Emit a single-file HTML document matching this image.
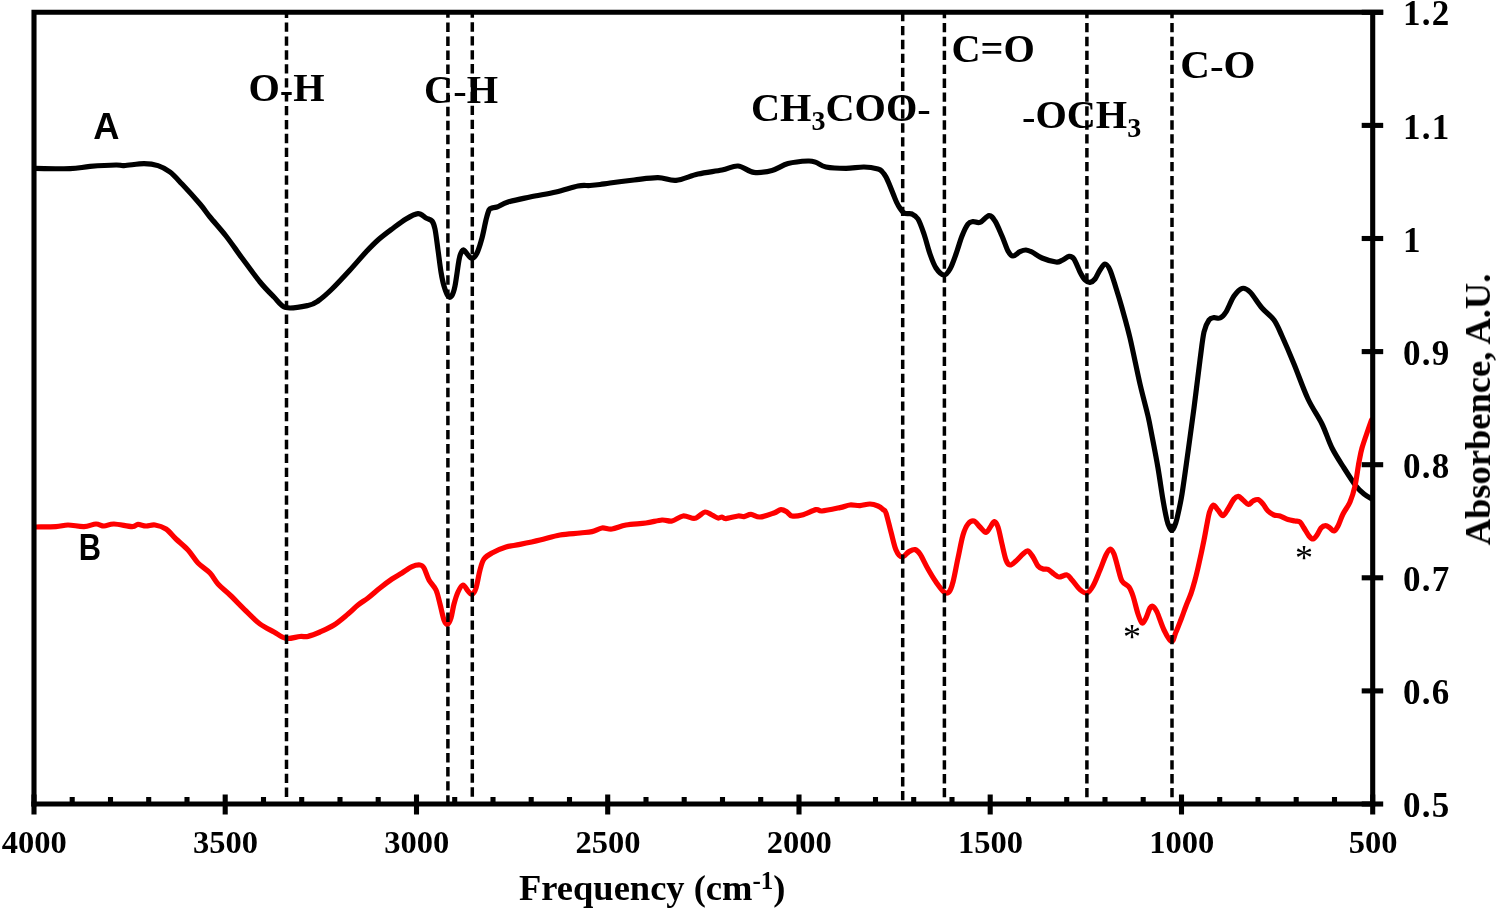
<!DOCTYPE html>
<html lang="en"><head><meta charset="utf-8"><title>FTIR spectra</title>
<style>
html,body{margin:0;padding:0;background:#fff;}
body{width:1499px;height:911px;overflow:hidden;}
svg{display:block;}
.s{font-family:"Liberation Serif",serif;font-weight:bold;fill:#000;}
.ss{font-family:"Liberation Sans","DejaVu Sans",sans-serif;font-weight:bold;fill:#000;}
.t{font-size:32.5px;}
.u{font-size:35px;letter-spacing:1.3px;}
.l{font-size:40.3px;}
.a{font-size:36.5px;}
</style></head><body>
<svg width="1499" height="911" viewBox="0 0 1499 911">
<defs><filter id="soft" x="0" y="0" width="1499" height="911" filterUnits="userSpaceOnUse"><feGaussianBlur stdDeviation="0.5"/></filter></defs>
<rect x="0" y="0" width="1499" height="911" fill="#ffffff"/>
<g filter="url(#soft)">
<path d="M35.0 168.4C40.8 168.4 60.8 169.0 70.0 168.7C79.2 168.4 82.3 167.0 90.0 166.4C97.7 165.8 110.3 165.1 116.0 165.0C121.7 164.9 119.3 165.8 124.0 165.6C128.7 165.4 138.3 163.6 144.0 163.6C149.7 163.6 153.7 164.2 158.0 165.6C162.3 167.0 166.0 168.9 170.0 172.0C174.0 175.1 177.0 178.7 182.0 184.0C187.0 189.3 195.3 198.5 200.0 204.0C204.7 209.5 205.7 211.7 210.0 217.0C214.3 222.3 220.7 229.2 226.0 236.0C231.3 242.8 236.3 250.3 242.0 258.0C247.7 265.7 254.7 275.5 260.0 282.0C265.3 288.5 269.7 292.7 274.0 297.0C278.3 301.3 280.3 306.2 286.0 307.6C291.7 309.0 302.7 306.6 308.0 305.5C313.3 304.4 314.0 303.8 318.0 301.0C322.0 298.2 326.7 294.2 332.0 289.0C337.3 283.8 344.3 276.2 350.0 270.0C355.7 263.8 361.3 257.0 366.0 252.0C370.7 247.0 373.7 243.8 378.0 240.0C382.3 236.2 387.3 232.5 392.0 229.0C396.7 225.5 401.7 221.6 406.0 219.0C410.3 216.4 414.7 213.8 418.0 213.6C421.3 213.4 423.7 216.8 426.0 218.0C428.3 219.2 430.5 219.2 432.0 221.0C433.5 222.8 434.0 224.2 435.0 229.0C436.0 233.8 437.0 242.8 438.0 250.0C439.0 257.2 440.0 266.0 441.0 272.0C442.0 278.0 442.8 282.0 444.0 286.0C445.2 290.0 446.7 294.3 448.0 296.0C449.3 297.7 450.4 297.7 451.6 296.0C452.8 294.3 453.8 292.0 455.0 286.0C456.2 280.0 458.0 265.5 459.0 260.0C460.0 254.5 460.2 254.7 461.0 253.0C461.8 251.3 462.4 249.7 463.6 250.0C464.8 250.3 466.6 253.6 468.0 255.0C469.4 256.4 470.5 258.7 472.0 258.4C473.5 258.1 475.3 256.4 477.0 253.0C478.7 249.6 480.5 243.5 482.0 238.0C483.5 232.5 484.8 224.7 486.0 220.0C487.2 215.3 488.0 212.0 489.0 210.0C490.0 208.0 490.7 208.5 492.0 208.0C493.3 207.5 494.3 208.0 497.0 207.0C499.7 206.0 502.5 203.7 508.0 202.0C513.5 200.3 522.0 198.7 530.0 197.0C538.0 195.3 548.0 193.8 556.0 192.0C564.0 190.2 572.3 187.1 578.0 186.0C583.7 184.9 586.3 185.8 590.0 185.5C593.7 185.2 596.7 184.9 600.0 184.5C603.3 184.1 604.3 183.8 610.0 183.0C615.7 182.2 626.0 180.9 634.0 180.0C642.0 179.1 651.0 177.5 658.0 177.6C665.0 177.7 669.3 181.0 676.0 180.4C682.7 179.8 690.3 175.7 698.0 174.0C705.7 172.3 715.3 171.3 722.0 170.0C728.7 168.7 732.7 165.6 738.0 166.0C743.3 166.4 748.3 171.7 754.0 172.4C759.7 173.1 766.3 171.9 772.0 170.4C777.7 168.9 782.0 165.2 788.0 163.6C794.0 162.0 803.3 161.2 808.0 161.0C812.7 160.8 813.0 161.4 816.0 162.4C819.0 163.4 821.0 166.0 826.0 167.0C831.0 168.0 839.7 168.4 846.0 168.4C852.3 168.4 858.7 166.9 864.0 167.0C869.3 167.1 875.0 168.2 878.0 169.0C881.0 169.8 880.7 170.2 882.0 171.5C883.3 172.8 884.7 174.6 886.0 177.0C887.3 179.4 888.7 182.8 890.0 186.0C891.3 189.2 892.7 192.8 894.0 196.0C895.3 199.2 896.3 202.2 898.0 205.0C899.7 207.8 901.7 211.5 904.0 213.0C906.3 214.5 909.7 213.0 912.0 214.0C914.3 215.0 916.0 215.7 918.0 219.0C920.0 222.3 922.0 228.2 924.0 234.0C926.0 239.8 928.0 248.3 930.0 254.0C932.0 259.7 933.7 264.5 936.0 268.0C938.3 271.5 941.7 274.8 944.0 275.0C946.3 275.2 948.0 272.5 950.0 269.0C952.0 265.5 954.0 259.5 956.0 254.0C958.0 248.5 960.0 241.0 962.0 236.0C964.0 231.0 966.2 226.4 968.0 224.0C969.8 221.6 971.0 221.9 973.0 221.6C975.0 221.3 977.3 223.4 980.0 222.4C982.7 221.4 986.5 215.8 989.0 215.6C991.5 215.4 992.8 217.6 995.0 221.0C997.2 224.4 999.8 231.0 1002.0 236.0C1004.2 241.0 1006.2 247.7 1008.0 251.0C1009.8 254.3 1011.0 255.9 1013.0 256.0C1015.0 256.1 1017.8 252.6 1020.0 251.6C1022.2 250.6 1024.0 249.9 1026.0 250.0C1028.0 250.1 1029.3 250.7 1032.0 252.0C1034.7 253.3 1038.0 256.3 1042.0 258.0C1046.0 259.7 1052.7 261.6 1056.0 262.0C1059.3 262.4 1059.8 261.3 1062.0 260.4C1064.2 259.5 1067.0 256.6 1069.0 256.4C1071.0 256.2 1072.2 256.4 1074.0 259.0C1075.8 261.6 1078.2 268.5 1080.0 272.0C1081.8 275.5 1083.3 278.3 1085.0 280.0C1086.7 281.7 1088.3 282.6 1090.0 282.4C1091.7 282.2 1093.3 281.1 1095.0 279.0C1096.7 276.9 1098.3 272.5 1100.0 270.0C1101.7 267.5 1103.3 264.0 1105.0 264.0C1106.7 264.0 1108.2 266.0 1110.0 270.0C1111.8 274.0 1114.0 281.7 1116.0 288.0C1118.0 294.3 1119.7 299.7 1122.0 308.0C1124.3 316.3 1127.0 325.3 1130.0 338.0C1133.0 350.7 1137.0 371.0 1140.0 384.0C1143.0 397.0 1146.0 407.3 1148.0 416.0C1150.0 424.7 1150.3 427.3 1152.0 436.0C1153.7 444.7 1156.2 457.3 1158.0 468.0C1159.8 478.7 1161.5 491.2 1163.0 500.0C1164.5 508.8 1165.9 515.9 1167.0 520.5C1168.1 525.1 1168.7 525.9 1169.5 527.5C1170.3 529.1 1171.0 530.3 1171.8 530.3C1172.5 530.3 1173.1 529.5 1174.0 527.5C1174.9 525.5 1175.7 524.1 1177.0 518.5C1178.3 512.9 1180.2 505.1 1182.0 494.0C1183.8 482.9 1186.0 466.3 1188.0 452.0C1190.0 437.7 1192.0 423.3 1194.0 408.0C1196.0 392.7 1198.3 372.7 1200.0 360.0C1201.7 347.3 1202.5 338.7 1204.0 332.0C1205.5 325.3 1207.3 322.4 1209.0 320.0C1210.7 317.6 1212.2 317.9 1214.0 317.6C1215.8 317.3 1218.0 318.9 1220.0 318.0C1222.0 317.1 1223.7 315.7 1226.0 312.0C1228.3 308.3 1231.3 299.9 1234.0 296.0C1236.7 292.1 1239.3 289.1 1242.0 288.4C1244.7 287.7 1246.7 288.7 1250.0 292.0C1253.3 295.3 1258.0 303.3 1262.0 308.0C1266.0 312.7 1270.7 315.3 1274.0 320.0C1277.3 324.7 1278.7 328.7 1282.0 336.0C1285.3 343.3 1289.7 353.5 1294.0 364.0C1298.3 374.5 1303.3 389.0 1308.0 399.0C1312.7 409.0 1318.0 415.8 1322.0 424.0C1326.0 432.2 1328.3 440.7 1332.0 448.0C1335.7 455.3 1340.0 461.7 1344.0 468.0C1348.0 474.3 1352.7 481.7 1356.0 486.0C1359.3 490.3 1361.3 491.8 1364.0 494.0C1366.7 496.2 1370.7 498.2 1372.0 499.0" fill="none" stroke="#000" stroke-width="5.2" stroke-linejoin="round" stroke-linecap="round"/>
<path d="M35.0 527.0C38.5 526.9 50.5 526.9 56.0 526.6C61.5 526.3 63.3 525.0 68.0 525.0C72.7 525.0 79.3 526.8 84.0 526.6C88.7 526.4 92.7 524.1 96.0 524.0C99.3 523.9 101.0 526.0 104.0 526.0C107.0 526.0 109.3 523.9 114.0 524.0C118.7 524.1 128.0 526.5 132.0 526.6C136.0 526.7 135.7 524.5 138.0 524.4C140.3 524.3 143.2 525.9 146.0 526.0C148.8 526.1 151.7 524.5 155.0 525.0C158.3 525.5 162.5 526.7 166.0 529.0C169.5 531.3 172.3 535.5 176.0 539.0C179.7 542.5 184.3 546.0 188.0 550.0C191.7 554.0 194.3 559.2 198.0 563.0C201.7 566.8 206.7 569.5 210.0 573.0C213.3 576.5 214.7 580.3 218.0 584.0C221.3 587.7 225.3 590.5 230.0 595.0C234.7 599.5 241.0 606.2 246.0 611.0C251.0 615.8 255.3 620.5 260.0 624.0C264.7 627.5 269.7 629.6 274.0 632.0C278.3 634.4 281.7 637.6 286.0 638.4C290.3 639.1 296.3 636.8 300.0 636.5C303.7 636.2 304.7 637.1 308.0 636.4C311.3 635.6 315.7 633.9 320.0 632.0C324.3 630.1 329.3 628.0 334.0 625.0C338.7 622.0 344.0 617.3 348.0 614.0C352.0 610.7 354.7 607.7 358.0 605.0C361.3 602.3 364.3 600.8 368.0 598.0C371.7 595.2 376.0 591.2 380.0 588.0C384.0 584.8 388.3 581.5 392.0 579.0C395.7 576.5 398.7 575.1 402.0 573.0C405.3 570.9 409.0 567.9 412.0 566.6C415.0 565.3 418.0 564.8 420.0 565.0C422.0 565.2 422.5 565.5 424.0 568.0C425.5 570.5 427.0 576.3 429.0 580.0C431.0 583.7 434.2 586.0 436.0 590.0C437.8 594.0 438.7 599.0 440.0 604.0C441.3 609.0 442.7 616.6 444.0 620.0C445.3 623.4 446.4 624.7 447.6 624.4C448.8 624.1 449.9 621.4 451.0 618.0C452.1 614.6 452.8 608.3 454.0 604.0C455.2 599.7 456.5 595.2 458.0 592.0C459.5 588.8 461.3 585.2 463.0 585.0C464.7 584.8 466.5 589.4 468.0 591.0C469.5 592.6 470.7 594.9 472.0 594.4C473.3 593.9 474.7 592.1 476.0 588.0C477.3 583.9 478.7 574.8 480.0 570.0C481.3 565.2 482.0 561.8 484.0 559.0C486.0 556.2 488.3 555.0 492.0 553.0C495.7 551.0 501.3 548.4 506.0 547.0C510.7 545.6 514.3 545.6 520.0 544.4C525.7 543.2 533.3 541.6 540.0 540.0C546.7 538.4 553.3 536.2 560.0 535.0C566.7 533.8 574.7 533.6 580.0 533.0C585.3 532.4 588.3 532.4 592.0 531.6C595.7 530.8 598.7 528.4 602.0 528.0C605.3 527.6 608.0 529.5 612.0 529.0C616.0 528.5 620.3 526.0 626.0 525.0C631.7 524.0 640.0 523.8 646.0 523.0C652.0 522.2 657.7 520.3 662.0 520.0C666.3 519.7 668.5 521.7 672.0 521.0C675.5 520.3 679.3 516.4 683.0 516.0C686.7 515.6 691.3 518.4 694.0 518.4C696.7 518.4 697.2 517.1 699.0 516.0C700.8 514.9 702.8 512.2 705.0 512.0C707.2 511.8 709.8 514.0 712.0 515.0C714.2 516.0 716.3 517.7 718.0 518.0C719.7 518.3 720.7 516.9 722.0 517.0C723.3 517.1 723.3 518.8 726.0 518.6C728.7 518.4 735.0 516.3 738.0 516.0C741.0 515.7 741.8 516.9 744.0 516.6C746.2 516.3 748.3 514.3 751.0 514.4C753.7 514.5 756.2 517.2 760.0 517.0C763.8 516.8 770.5 514.2 774.0 513.0C777.5 511.8 778.8 509.8 781.0 509.6C783.2 509.4 785.2 510.9 787.0 512.0C788.8 513.1 789.5 515.5 792.0 516.0C794.5 516.5 798.0 516.1 802.0 515.0C806.0 513.9 812.7 510.3 816.0 509.6C819.3 508.9 818.0 511.3 822.0 511.0C826.0 510.7 835.3 508.6 840.0 507.6C844.7 506.6 846.7 505.3 850.0 505.0C853.3 504.7 856.7 505.8 860.0 505.6C863.3 505.4 867.0 503.9 870.0 504.0C873.0 504.1 875.8 505.1 878.0 506.0C880.2 506.9 881.7 508.3 883.0 509.5C884.3 510.7 884.7 509.2 886.0 513.0C887.3 516.8 889.3 525.8 891.0 532.0C892.7 538.2 894.2 545.8 896.0 550.0C897.8 554.2 899.8 556.7 902.0 557.0C904.2 557.3 906.8 552.8 909.0 551.6C911.2 550.4 913.2 549.2 915.0 549.6C916.8 550.0 917.8 550.8 920.0 554.0C922.2 557.2 925.3 564.3 928.0 569.0C930.7 573.7 933.3 578.2 936.0 582.0C938.7 585.8 941.8 590.3 944.0 592.0C946.2 593.7 947.5 593.7 949.0 592.0C950.5 590.3 951.5 587.7 953.0 582.0C954.5 576.3 956.3 565.8 958.0 558.0C959.7 550.2 961.3 540.7 963.0 535.0C964.7 529.3 966.2 526.3 968.0 524.0C969.8 521.7 972.0 520.5 974.0 521.0C976.0 521.5 978.0 525.1 980.0 527.0C982.0 528.9 984.2 532.6 986.0 532.4C987.8 532.2 989.6 527.8 991.0 526.0C992.4 524.2 993.2 521.4 994.4 521.6C995.6 521.8 996.7 523.3 998.0 527.0C999.3 530.7 1000.7 538.5 1002.0 544.0C1003.3 549.5 1004.7 556.5 1006.0 560.0C1007.3 563.5 1008.3 564.8 1010.0 565.0C1011.7 565.2 1013.8 562.8 1016.0 561.0C1018.2 559.2 1021.0 555.7 1023.0 554.0C1025.0 552.3 1026.3 550.5 1028.0 551.0C1029.7 551.5 1031.3 554.5 1033.0 557.0C1034.7 559.5 1036.3 564.0 1038.0 566.0C1039.7 568.0 1041.3 568.4 1043.0 569.0C1044.7 569.6 1046.2 568.6 1048.0 569.4C1049.8 570.2 1052.2 572.7 1054.0 574.0C1055.8 575.3 1056.8 576.8 1059.0 577.0C1061.2 577.2 1064.8 574.5 1067.0 575.0C1069.2 575.5 1069.8 577.6 1072.0 580.0C1074.2 582.4 1077.5 587.4 1080.0 589.6C1082.5 591.8 1084.8 593.6 1087.0 593.0C1089.2 592.4 1090.8 589.8 1093.0 586.0C1095.2 582.2 1097.8 575.2 1100.0 570.0C1102.2 564.8 1104.3 558.5 1106.0 555.0C1107.7 551.5 1109.1 549.2 1110.4 549.0C1111.7 548.8 1112.7 550.8 1114.0 554.0C1115.3 557.2 1116.7 563.5 1118.0 568.0C1119.3 572.5 1120.2 577.8 1122.0 581.0C1123.8 584.2 1127.2 584.5 1129.0 587.0C1130.8 589.5 1131.5 591.5 1133.0 596.0C1134.5 600.5 1136.5 609.5 1138.0 614.0C1139.5 618.5 1140.7 622.3 1142.0 623.0C1143.3 623.7 1144.7 620.5 1146.0 618.0C1147.3 615.5 1148.8 609.9 1150.0 608.0C1151.2 606.1 1151.8 605.7 1153.0 606.4C1154.2 607.1 1155.2 608.1 1157.0 612.0C1158.8 615.9 1161.6 625.1 1164.0 630.0C1166.4 634.9 1169.5 641.2 1171.5 641.5C1173.5 641.8 1174.3 635.8 1176.0 632.0C1177.7 628.2 1179.7 622.8 1181.4 618.5C1183.1 614.2 1184.3 610.3 1186.0 606.0C1187.7 601.7 1189.8 596.9 1191.3 592.6C1192.8 588.3 1193.8 584.3 1195.0 580.0C1196.2 575.7 1197.2 571.4 1198.2 567.0C1199.2 562.6 1200.2 558.1 1201.2 553.5C1202.2 548.9 1203.1 544.4 1204.1 539.5C1205.1 534.6 1206.1 528.7 1207.0 524.0C1207.9 519.3 1208.6 514.7 1209.7 511.5C1210.8 508.3 1212.0 505.2 1213.4 505.0C1214.8 504.8 1216.4 508.2 1218.0 510.0C1219.6 511.8 1221.3 515.8 1223.0 515.6C1224.7 515.4 1226.2 511.8 1228.0 509.0C1229.8 506.2 1232.3 501.1 1234.0 499.0C1235.7 496.9 1236.9 496.2 1238.4 496.4C1239.9 496.6 1241.3 498.7 1243.0 500.0C1244.7 501.3 1246.7 504.2 1248.4 504.4C1250.1 504.6 1251.4 501.8 1253.0 501.0C1254.6 500.2 1256.3 499.1 1258.0 499.6C1259.7 500.1 1261.3 502.1 1263.0 504.0C1264.7 505.9 1266.2 509.2 1268.0 511.0C1269.8 512.8 1272.0 514.2 1274.0 515.0C1276.0 515.8 1277.7 515.2 1280.0 516.0C1282.3 516.8 1285.5 518.8 1288.0 519.6C1290.5 520.4 1293.0 520.6 1295.0 521.0C1297.0 521.4 1298.5 520.8 1300.0 522.0C1301.5 523.2 1302.5 525.7 1304.0 528.0C1305.5 530.3 1307.5 534.2 1309.0 536.0C1310.5 537.8 1311.7 539.2 1313.0 539.0C1314.3 538.8 1315.7 536.8 1317.0 535.0C1318.3 533.2 1319.6 529.6 1321.0 528.0C1322.4 526.4 1324.1 525.6 1325.6 525.6C1327.1 525.6 1328.6 527.1 1330.0 528.0C1331.4 528.9 1332.7 531.3 1334.0 531.0C1335.3 530.7 1336.5 528.8 1338.0 526.0C1339.5 523.2 1341.0 518.0 1343.0 514.0C1345.0 510.0 1348.0 506.7 1350.0 502.0C1352.0 497.3 1353.5 492.7 1355.0 486.0C1356.5 479.3 1357.8 468.3 1359.0 462.0C1360.2 455.7 1360.5 453.3 1362.0 448.0C1363.5 442.7 1366.4 434.7 1368.0 430.0C1369.6 425.3 1370.9 421.7 1371.5 420.0" fill="none" stroke="#fe0000" stroke-width="5.2" stroke-linejoin="round" stroke-linecap="round"/>
<g stroke="#000" stroke-width="3.5" fill="none">
<line x1="286.5" y1="12.3" x2="286.5" y2="800" stroke-dasharray="9.35 4.56" stroke-dashoffset="3.70"/>
<line x1="447.9" y1="12.3" x2="447.9" y2="803" stroke-dasharray="9.44 4.61" stroke-dashoffset="3.90"/>
<line x1="472.3" y1="12.3" x2="472.3" y2="800" stroke-dasharray="9.35 4.56" stroke-dashoffset="3.90"/>
<line x1="902.7" y1="12.3" x2="902.7" y2="803" stroke-dasharray="9.35 4.56" stroke-dashoffset="0.30"/>
<line x1="944.4" y1="12.3" x2="944.4" y2="800" stroke-dasharray="9.35 4.56" stroke-dashoffset="3.30"/>
<line x1="1086.9" y1="12.3" x2="1086.9" y2="800" stroke-dasharray="9.35 4.56" stroke-dashoffset="3.30"/>
<line x1="1172.0" y1="12.3" x2="1172.0" y2="800" stroke-dasharray="9.35 4.56" stroke-dashoffset="3.30"/>
</g>
<g stroke="#000" stroke-width="5.1" fill="none" stroke-linecap="butt">
<path d="M34.0 806.5 V12.3 H1383.2 V12.3 H1372.7" stroke-linejoin="miter"/>
<path d="M1372.7 12.3 V804.0 H31.4" stroke-linejoin="miter"/>
<line x1="34.0" y1="794.5" x2="34.0" y2="814.5"/>
<line x1="72.2" y1="797" x2="72.2" y2="804"/>
<line x1="110.5" y1="797" x2="110.5" y2="804"/>
<line x1="148.7" y1="797" x2="148.7" y2="804"/>
<line x1="187.0" y1="797" x2="187.0" y2="804"/>
<line x1="225.2" y1="794.5" x2="225.2" y2="814.5"/>
<line x1="263.5" y1="797" x2="263.5" y2="804"/>
<line x1="301.7" y1="797" x2="301.7" y2="804"/>
<line x1="340.0" y1="797" x2="340.0" y2="804"/>
<line x1="378.2" y1="797" x2="378.2" y2="804"/>
<line x1="416.5" y1="794.5" x2="416.5" y2="814.5"/>
<line x1="454.7" y1="797" x2="454.7" y2="804"/>
<line x1="493.0" y1="797" x2="493.0" y2="804"/>
<line x1="531.2" y1="797" x2="531.2" y2="804"/>
<line x1="569.5" y1="797" x2="569.5" y2="804"/>
<line x1="607.7" y1="794.5" x2="607.7" y2="814.5"/>
<line x1="646.0" y1="797" x2="646.0" y2="804"/>
<line x1="684.2" y1="797" x2="684.2" y2="804"/>
<line x1="722.5" y1="797" x2="722.5" y2="804"/>
<line x1="760.7" y1="797" x2="760.7" y2="804"/>
<line x1="799.0" y1="794.5" x2="799.0" y2="814.5"/>
<line x1="837.2" y1="797" x2="837.2" y2="804"/>
<line x1="875.5" y1="797" x2="875.5" y2="804"/>
<line x1="913.7" y1="797" x2="913.7" y2="804"/>
<line x1="952.0" y1="797" x2="952.0" y2="804"/>
<line x1="990.2" y1="794.5" x2="990.2" y2="814.5"/>
<line x1="1028.5" y1="797" x2="1028.5" y2="804"/>
<line x1="1066.7" y1="797" x2="1066.7" y2="804"/>
<line x1="1105.0" y1="797" x2="1105.0" y2="804"/>
<line x1="1143.2" y1="797" x2="1143.2" y2="804"/>
<line x1="1181.5" y1="794.5" x2="1181.5" y2="814.5"/>
<line x1="1219.7" y1="797" x2="1219.7" y2="804"/>
<line x1="1258.0" y1="797" x2="1258.0" y2="804"/>
<line x1="1296.2" y1="797" x2="1296.2" y2="804"/>
<line x1="1334.5" y1="797" x2="1334.5" y2="804"/>
<line x1="1372.7" y1="794.5" x2="1372.7" y2="814.5"/>
<line x1="1361.7" y1="804.0" x2="1383.2" y2="804.0"/>
<line x1="1361.7" y1="690.9" x2="1383.2" y2="690.9"/>
<line x1="1361.7" y1="577.8" x2="1383.2" y2="577.8"/>
<line x1="1361.7" y1="464.7" x2="1383.2" y2="464.7"/>
<line x1="1361.7" y1="351.6" x2="1383.2" y2="351.6"/>
<line x1="1361.7" y1="238.5" x2="1383.2" y2="238.5"/>
<line x1="1361.7" y1="125.4" x2="1383.2" y2="125.4"/>
<line x1="1361.7" y1="12.3" x2="1383.2" y2="12.3"/>
</g>
<text class="s t" x="34.3" y="853.4" text-anchor="middle">4000</text>
<text class="s t" x="225.5" y="853.4" text-anchor="middle">3500</text>
<text class="s t" x="416.8" y="853.4" text-anchor="middle">3000</text>
<text class="s t" x="608.0" y="853.4" text-anchor="middle">2500</text>
<text class="s t" x="799.3" y="853.4" text-anchor="middle">2000</text>
<text class="s t" x="990.5" y="853.4" text-anchor="middle">1500</text>
<text class="s t" x="1181.8" y="853.4" text-anchor="middle">1000</text>
<text class="s t" x="1373.0" y="853.4" text-anchor="middle">500</text>
<text class="s u" x="1403" y="817.1">0.5</text>
<text class="s u" x="1403" y="704.0">0.6</text>
<text class="s u" x="1403" y="590.9">0.7</text>
<text class="s u" x="1403" y="477.8">0.8</text>
<text class="s u" x="1403" y="364.7">0.9</text>
<text class="s u" x="1403" y="251.6">1</text>
<text class="s u" x="1403" y="138.5">1.1</text>
<text class="s u" x="1403" y="25.4">1.2</text>
<text class="s a" x="519" y="900">Frequency (cm<tspan font-size="25px" dy="-11.3">-1</tspan><tspan dy="11.3">)</tspan></text>
<text class="s a" transform="translate(1490,409.5) rotate(-90)" text-anchor="middle">Absorbence, A.U.</text>
<text class="s l" x="248.5" y="101.3">O<tspan font-weight="normal" dy="1.4">-</tspan><tspan dy="-1.4">H</tspan></text>
<text class="s l" x="424.1" y="102.7">C<tspan font-weight="normal" dy="1.4">-</tspan><tspan dy="-1.4">H</tspan></text>
<text class="s l" x="751" y="121">CH<tspan font-size="28px" dy="8.5">3</tspan><tspan dy="-8.5">COO</tspan><tspan font-weight="normal" dy="1.4">-</tspan></text>
<text class="s l" x="951.5" y="62">C=O</text>
<text class="s l" x="1022" y="128.2"><tspan font-weight="normal" dy="1.4">-</tspan><tspan dy="-1.4">OCH</tspan><tspan font-size="28px" dy="8.5">3</tspan></text>
<text class="s l" style="font-size:41px" x="1180.3" y="77.6">C<tspan font-weight="normal" dy="1.4">-</tspan><tspan dy="-1.4">O</tspan></text>
<text class="ss" font-size="36.3px" x="93.2" y="138.8">A</text>
<text class="ss" font-size="36.3px" transform="translate(78.85,559.9) scale(0.85,1)">B</text>
<text class="s" style="font-weight:normal" font-size="36px" x="1123" y="649.4">*</text>
<text class="s" style="font-weight:normal" font-size="36px" x="1294.9" y="569.6">*</text>
</g>
</svg>
</body></html>
